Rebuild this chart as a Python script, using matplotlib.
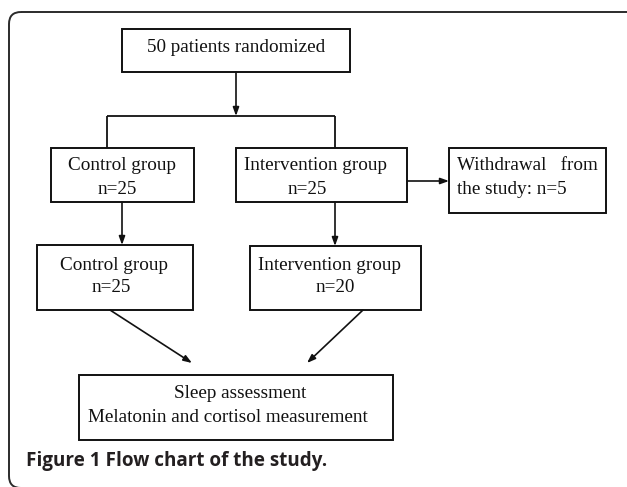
import matplotlib.pyplot as plt
from matplotlib.patches import Rectangle, FancyBboxPatch

# box labels (one entry per box, lines split by \n)
box_labels = ["50 patients randomized",
              "Control group\nn=25",
              "Intervention group\nn=25",
              "Withdrawal   from\nthe study: n=5",
              "Control group\nn=25",
              "Intervention group\nn=20",
              "Sleep assessment\nMelatonin and cortisol measurement"]
caption = "Figure 1 Flow chart of the study."

# layout in pixel coords: (left, top, right, bottom)
boxes = [(122, 29, 350, 72),
         (51, 148, 194, 202),
         (236, 148, 407, 202),
         (449, 148, 606, 213),
         (37, 245, 193, 310),
         (250, 246, 421, 310),
         (79, 375, 393, 440)]
# per-line text anchors: (x, y, ha)
text_pos = [[(236, 48, 'center')],
            [(122, 166, 'center'), (117, 190, 'center')],
            [(316, 166, 'center'), (307, 190, 'center')],
            [(457, 166, 'left'), (457, 189, 'left')],
            [(114, 265, 'center'), (111, 287, 'center')],
            [(330, 265, 'center'), (335, 287, 'center')],
            [(240, 394, 'center'), (228, 417, 'center')]]

W, H = 627, 487
fig = plt.figure(figsize=(W / 100, H / 100), dpi=100)
ax = fig.add_axes([0, 0, 1, 1])
ax.set_xlim(0, W)
ax.set_ylim(H, 0)
ax.axis('off')

# outer rounded frame (right and bottom sides run past the image edge)
frame = FancyBboxPatch((9, 12), 640, 476, boxstyle="round,pad=0,rounding_size=12",
                       fill=False, ec='#2b2b2b', lw=1.4)
ax.add_patch(frame)

serif = ['Liberation Serif', 'DejaVu Serif']
for (l, t, r, b), label, pos in zip(boxes, box_labels, text_pos):
    ax.add_patch(Rectangle((l, t), r - l, b - t, fill=False, ec='#111111', lw=1.4))
    for line, (x, y, ha) in zip(label.split('\n'), pos):
        ax.text(x, y, line, ha=ha, va='center', family=serif, fontsize=13.8, color='#111111')

# connectors
line_kw = dict(color='#111111', lw=1.3, solid_capstyle='butt')
ax.plot([107, 335], [116, 116], **line_kw)
ax.plot([107, 107], [116, 148], **line_kw)
ax.plot([335, 335], [116, 148], **line_kw)

def arrow(x0, y0, x1, y1):
    ax.annotate('', xy=(x1, y1), xytext=(x0, y0),
                arrowprops=dict(arrowstyle='-|>,head_length=0.5,head_width=0.18',
                                color='#111111', lw=1.2, shrinkA=0, shrinkB=0))

arrow(236, 72, 236, 116)
arrow(407, 181, 449, 181)
arrow(122, 202, 122, 245)
arrow(335, 202, 335, 246)
arrow(110, 310, 192, 363)
arrow(363, 310, 307, 363)

ax.text(26, 461, caption, ha='left', va='center', family=['Open Sans', 'DejaVu Sans'],
        fontweight='bold', fontsize=13.6, color='#231f20')

fig.savefig('out.png', dpi=100)
